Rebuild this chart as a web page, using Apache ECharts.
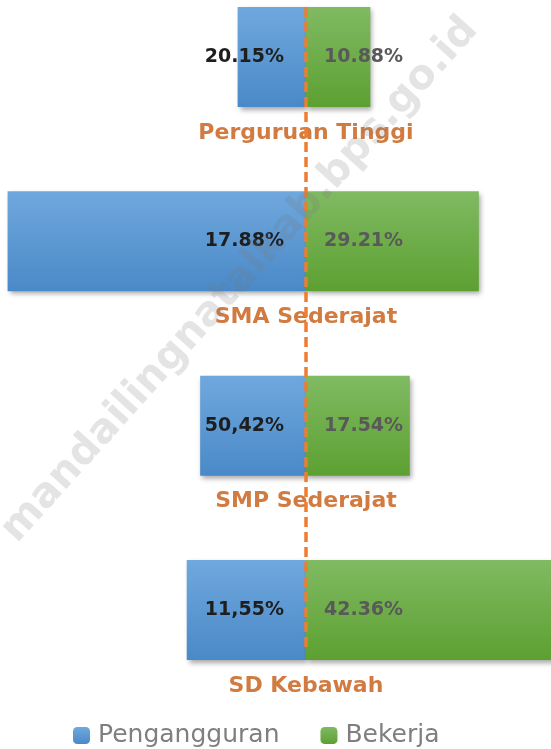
<!DOCTYPE html>
<html>
<head>
<meta charset="utf-8">
<script src="https://cdn.jsdelivr.net/npm/echarts@6/dist/echarts.min.js"></script>
<style>
html, body { margin: 0; padding: 0; background: #fff; }
#chart { width: 551px; height: 749px; }
</style>
</head>
<body>
<div id="chart"></div>
<script>
// kategori pendidikan (atas ke bawah)
var categories = ['Perguruan Tinggi', 'SMA Sederajat', 'SMP Sederajat', 'SD Kebawah'];
// panjang batang (persen)
var pengangguran = [11.55, 50.42, 17.88, 20.15];
var bekerja = [10.88, 29.21, 17.54, 42.36];
// teks label seperti tertulis di gambar
var labelPengangguran = ['20.15%', '17.88%', '50,42%', '11,55%'];
var labelBekerja = ['10.88%', '29.21%', '17.54%', '42.36%'];

var chart = echarts.init(document.getElementById('chart'));

var blueGrad = new echarts.graphic.LinearGradient(0, 0, 0, 1, [
	{ offset: 0, color: '#6fa8dd' },
	{ offset: 1, color: '#4a89c8' }
]);
var greenGrad = new echarts.graphic.LinearGradient(0, 0, 0, 1, [
	{ offset: 0, color: '#80ba63' },
	{ offset: 1, color: '#5da031' }
]);

chart.setOption({
	animation: false,
	legend: {
		data: ['Pengangguran', 'Bekerja'],
		left: 73,
		top: 723,
		padding: 0,
		itemWidth: 17,
		itemHeight: 17,
		itemGap: 41,
		textStyle: { fontFamily: 'DejaVu Sans', fontSize: 25, color: '#7f7f7f', padding: [0, 0, 0, 3] }
	},
	grid: { left: 0, right: 0, top: 57, bottom: 139 },
	xAxis: {
		type: 'value',
		min: -51.7,
		max: 41.4,
		show: false
	},
	yAxis: {
		type: 'category',
		data: categories,
		inverse: true,
		boundaryGap: false,
		show: false
	},
	graphic: [{
		type: 'text',
		x: 240,
		y: 280,
		rotation: 48 * Math.PI / 180,
		z: 100,
		silent: true,
		style: {
			text: 'mandailingnatalkab.bps.go.id',
			font: 'bold 41px "DejaVu Sans"',
			fill: 'rgba(120,120,120,0.2)',
			align: 'center',
			verticalAlign: 'middle'
		}
	}],
	series: [
		{
			name: 'Pengangguran',
			type: 'bar',
			stack: 'total',
			barWidth: 100,
			clip: false,
			data: pengangguran.map(function (v) { return -v; }),
			itemStyle: {
				color: blueGrad,
				shadowBlur: 5,
				shadowOffsetX: 2,
				shadowOffsetY: 3,
				shadowColor: 'rgba(0,0,0,0.35)'
			},
			label: {
				show: true,
				position: 'insideRight',
				distance: 22,
				fontFamily: 'DejaVu Sans',
				fontWeight: 'bold',
				fontSize: 19,
				color: '#1e1e1e',
				formatter: function (p) { return labelPengangguran[p.dataIndex]; }
			}
		},
		{
			name: 'Bekerja',
			type: 'bar',
			stack: 'total',
			barWidth: 100,
			clip: false,
			data: bekerja,
			itemStyle: {
				color: greenGrad,
				shadowBlur: 5,
				shadowOffsetX: 2,
				shadowOffsetY: 3,
				shadowColor: 'rgba(0,0,0,0.35)'
			},
			label: {
				show: true,
				position: 'insideLeft',
				distance: 18,
				fontFamily: 'DejaVu Sans',
				fontWeight: 'bold',
				fontSize: 19,
				color: '#595959',
				formatter: function (p) { return labelBekerja[p.dataIndex]; }
			},
			markLine: {
				silent: true,
				symbol: ['none', 'none'],
				label: { show: false },
				lineStyle: { color: '#ED7D31', width: 3.5, type: [10, 5] },
				data: [[
					{ coord: [0, categories[0]], y: 7 },
					{ coord: [0, categories[3]], y: 647 }
				]]
			}
		},
		{
			// label kategori di bawah tiap batang
			type: 'scatter',
			symbolSize: 1,
			clip: false,
			silent: true,
			itemStyle: { color: 'rgba(0,0,0,0)' },
			data: categories.map(function (c) { return [0, c]; }),
			label: {
				show: true,
				position: 'inside',
				offset: [0, 76],
				fontFamily: 'DejaVu Sans',
				fontWeight: 'bold',
				fontSize: 22,
				color: '#C55A11',
				formatter: function (p) { return categories[p.dataIndex]; }
			}
		}
	]
});
</script>
</body>
</html>
